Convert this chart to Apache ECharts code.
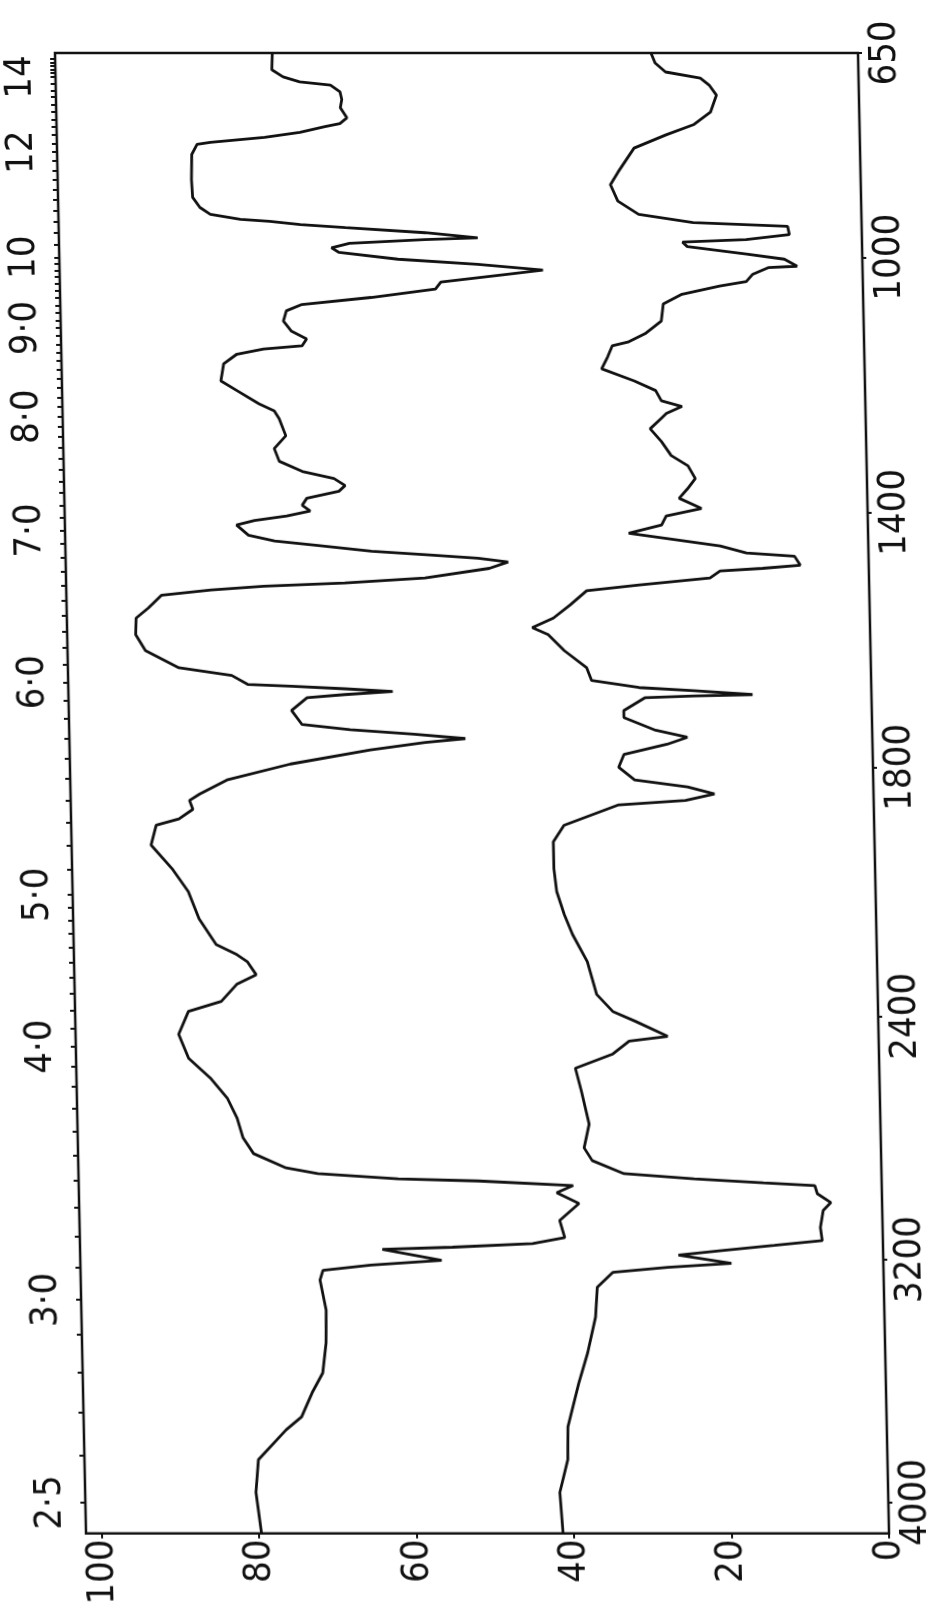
<!DOCTYPE html>
<html>
<head>
<meta charset="utf-8">
<script src="https://cdn.jsdelivr.net/npm/echarts@6/dist/echarts.min.js"></script>
<style>
html,body{margin:0;padding:0;background:#fff;}
#chart{position:absolute;left:0;top:0;width:928px;height:1608px;transform:skewX(1.2deg);transform-origin:0 53px;}
</style>
</head>
<body>
<div id="chart"></div>
<script>
// ---- upper trace (left curve): wavenumber (cm-1) and transmittance (%) ----
const wavenumberA = [650,695,714,722,727,738,750,763,779,788,793,802,810,818,821,837,877,905,921,932,940,943,948,953,961,969,972,978,985,992,1003,1011,1020,1027,1039,1050,1063,1074,1084,1100,1116,1128,1139,1144,1152,1167,1194,1209,1230,1241,1253,1280,1300,1320,1336,1347,1358,1367,1378,1389,1398,1406,1413,1420,1436,1445,1452,1461,1467,1472,1478,1488,1503,1511,1516,1522,1530,1550,1566,1592,1617,1644,1656,1670,1673,1677,1681,1686,1691,1711,1733,1741,1748,1755,1761,1773,1795,1820,1842,1852,1866,1881,1891,1922,1959,1995,2079,2164,2197,2220,2263,2295,2351,2384,2459,2538,2603,2669,2735,2800,2852,2899,2918,2935,2942,2957,2981,3016,3072,3128,3148,3160,3167,3203,3219,3236,3268,3367,3475,3574,3639,3718,3761,3859,3967,4102];
const transmittanceA = [74.4,74.5,73.1,71.0,67.1,65.9,65.7,65.9,65.1,66.0,67.9,71.1,75.6,82.5,84.2,84.9,85.0,84.9,84.0,82.7,78.9,75.2,71.3,65.6,55.5,48.8,55.5,65.1,67.4,66.5,59.0,48.9,40.6,45.4,53.6,54.3,62.5,71.3,73.3,73.7,72.7,70.8,71.4,76.3,79.7,81.4,81.8,79.8,77.0,75.1,74.5,73.7,75.2,74.6,71.7,67.7,66.3,67.1,71.2,71.8,70.8,73.8,77.9,80.2,78.7,75.4,69.9,63.1,55.7,49.6,45.8,48.2,56.4,66.6,76.9,83.6,89.9,91.6,93.2,93.3,92.1,87.9,81.2,79.2,73.7,66.8,60.8,66.9,71.7,73.7,72.4,66.3,58.2,51.7,56.8,63.8,74.0,82.1,85.6,86.9,86.5,88.3,91.2,91.9,89.3,87.3,86.0,83.9,81.3,80.0,78.9,81.4,83.4,87.6,88.9,87.7,85.0,82.9,81.7,81.0,79.7,75.6,71.6,61.4,51.2,39.2,41.3,38.5,41.0,40.4,44.5,54.7,63.6,56.1,65.1,71.2,71.6,70.9,71.0,71.5,72.9,74.3,76.3,79.9,80.3,79.7];

// ---- lower trace (right curve) ----
const wavenumberB = [650,677,701,716,727,743,770,790,806,827,865,885,911,932,945,951,964,972,976,983,995,1003,1014,1016,1027,1038,1045,1058,1073,1100,1120,1133,1139,1156,1175,1194,1209,1225,1234,1245,1253,1269,1289,1311,1327,1347,1363,1378,1394,1406,1420,1433,1441,1453,1464,1469,1483,1488,1492,1503,1514,1523,1545,1566,1581,1592,1617,1644,1664,1675,1680,1686,1688,1691,1711,1722,1742,1753,1764,1780,1800,1820,1831,1842,1852,1859,1891,1917,1959,1995,2065,2131,2220,2328,2384,2416,2466,2482,2524,2571,2646,2755,2833,2875,2918,2935,2948,2957,2984,3013,3039,3095,3138,3154,3171,3186,3213,3226,3243,3292,3390,3508,3607,3751,3859,3967,4102];
const transmittanceB = [26.3,25.8,24.5,20.1,19.0,18.1,18.9,21.1,24.6,28.7,30.8,31.8,30.9,28.3,21.4,9.4,9.2,14.7,22.8,22.2,14.7,9.9,8.3,11.9,14.0,14.8,18.2,23.0,25.4,25.7,27.8,30.0,32.0,32.6,33.4,29.3,26.6,25.9,23.3,25.3,26.0,27.4,26.0,24.8,22.7,21.8,22.8,23.9,21.1,25.6,26.2,30.4,25.6,18.8,15.5,9.4,8.7,13.5,18.9,20.2,29.2,35.9,38.0,40.2,42.9,40.9,38.9,36.1,35.5,29.5,22.5,15.1,22.5,28.8,31.5,31.5,27.5,23.5,26.1,31.6,32.3,30.3,23.6,20.2,23.9,32.4,39.4,40.8,40.8,40.5,39.6,38.6,36.8,35.7,33.7,30.9,26.8,31.7,33.8,38.6,37.9,37.0,37.7,36.7,32.7,23.8,15.0,8.5,8.2,6.5,7.5,7.9,7.7,13.8,20.5,26.0,19.3,27.4,34.4,36.4,36.7,37.8,39.0,40.5,40.6,41.7,41.4];

// ---- axis tick labels ----
const wavelengthTicks = [2.5,3,4,5,6,7,8,9,10,12,14];
const wavelengthLabels = ['2·5','3·0','4·0','5·0','6·0','7·0','8·0','9·0','10','12','14'];
const wavenumberTicks = [4000,3200,2400,1800,1400,1000,650];
const transmittanceTicks = [0,20,40,60,80,100];

// ---- chart-paper scale (wavenumber -> fraction of paper height), 2x expansion below 2000 cm-1 ----
const paperWn  = [4102, 2000, 1000, 714, 650];
const paperPos = [0, 0.4314, 0.8620, 0.9839, 1];
function pos(wn){
  for (let i = 0; i < paperWn.length - 1; i++) {
    const a = paperWn[i], b = paperWn[i+1];
    if (wn <= a && wn >= b) return paperPos[i] + (a - wn) / (a - b) * (paperPos[i+1] - paperPos[i]);
  }
  return wn > paperWn[0] ? 0 : 1;
}

// minor wavelength ticks (0.1 um up to 10 um, coarser above)
const minorWl = [];
for (let i = 25; i <= 100; i++) minorWl.push(i / 10);
for (let i = 51; i <= 75; i++) minorWl.push(i / 5);
const minorPos = minorWl.filter(w => 1e4 / w >= 650).map(w => pos(1e4 / w));

const wlPos = wavelengthTicks.map(w => pos(1e4 / w));
const wnPos = wavenumberTicks.map(pos);
function nearestLabel(v, positions, labels){
  let best = 0, d = Infinity;
  positions.forEach((p, i) => { const e = Math.abs(p - v); if (e < d) { d = e; best = i; } });
  return labels[best];
}

const FONT = "'Liberation Sans Narrow','DejaVu Sans Condensed','Liberation Sans',sans-serif";
const INK = '#111';

const chart = echarts.init(document.getElementById('chart'), null, {renderer: 'canvas'});
chart.setOption({
  animation: false,
  backgroundColor: '#fff',
  grid: {left: 55, right: 70, top: 53, bottom: 69, show: true, borderColor: INK, borderWidth: 2.5, backgroundColor: 'transparent'},
  xAxis: [{
    type: 'value', min: 0, max: 102, inverse: true, position: 'bottom',
    axisLine: {show: false, onZero: false},
    splitLine: {show: false},
    axisTick: {show: true, customValues: transmittanceTicks, length: 5, lineStyle: {color: INK, width: 2}},
    axisLabel: {customValues: transmittanceTicks, rotate: 90, margin: 6, fontSize: 38, fontFamily: FONT, color: INK,
      formatter: v => String(Math.round(v))}
  }],
  yAxis: [{
    type: 'value', min: 0, max: 1, position: 'left',
    axisLine: {show: false, onZero: false},
    splitLine: {show: false},
    axisTick: {show: true, customValues: minorPos, length: 5, lineStyle: {color: INK, width: 2}},
    axisLabel: {customValues: wlPos, rotate: 90, margin: 16, fontSize: 38, fontFamily: FONT, color: INK,
      formatter: v => nearestLabel(v, wlPos, wavelengthLabels)}
  }, {
    type: 'value', min: 0, max: 1, position: 'right',
    axisLine: {show: false, onZero: false},
    splitLine: {show: false},
    axisTick: {show: true, customValues: wnPos, length: 4, lineStyle: {color: INK, width: 2}},
    axisLabel: {customValues: wnPos, rotate: 90, margin: 8, fontSize: 38, fontFamily: FONT, color: INK,
      formatter: v => String(nearestLabel(v, wnPos, wavenumberTicks))}
  }],
  series: [{
    type: 'line', xAxisIndex: 0, yAxisIndex: 0, showSymbol: false, smooth: false,
    lineStyle: {color: INK, width: 2.8},
    data: wavenumberA.map((w, i) => [transmittanceA[i], pos(w)])
  }, {
    type: 'line', xAxisIndex: 0, yAxisIndex: 0, showSymbol: false, smooth: false,
    lineStyle: {color: INK, width: 2.8},
    data: wavenumberB.map((w, i) => [transmittanceB[i], pos(w)])
  }]
});
</script>
</body>
</html>
